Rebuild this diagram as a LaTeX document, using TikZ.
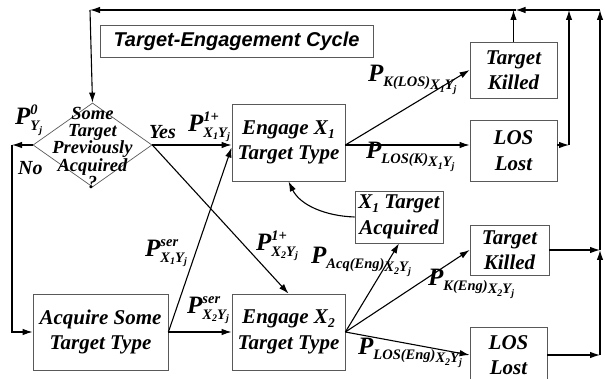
\documentclass[tikz,border=0pt]{standalone}
\usepackage{fontspec}
\setmainfont{Liberation Serif}
\newfontfamily\titlefont{Liberation Sans}
\usetikzlibrary{shapes.geometric,arrows.meta,calc}
\newcommand{\boxfont}{\fontsize{21}{25.5}\selectfont\bfseries\itshape}
\newcommand{\diafont}{\fontsize{18.5}{16.5}\selectfont\bfseries\itshape}
\newcommand{\bigP}{{\fontsize{25}{25}\selectfont P}}
\newcommand{\sbf}[1]{{\fontsize{14.5}{14.5}\selectfont #1}}
\newcommand{\ssb}[1]{\raisebox{-2.5pt}{\fontsize{10}{10}\selectfont #1}}
\newcommand{\bsub}[1]{\raisebox{-4pt}{\fontsize{13.5}{13.5}\selectfont #1}}
\newcommand{\XYj}[1]{X\ssb{#1}Y\ssb{j}}
\newcommand{\PSup}[2]{\bigP\rlap{\raisebox{10pt}{\sbf{#1}}}\raisebox{-6pt}{\sbf{#2}}}
\newcommand{\PDbl}[2]{\bigP\raisebox{-5pt}{\sbf{#1}}\raisebox{-8pt}{\sbf{\XYj{#2}}}}
\begin{document}
\begin{tikzpicture}[x=1pt,y=-1pt,
 box/.style={draw=gray!70!black, line width=0.8pt, align=center, inner sep=0pt, font=\boxfont},
 arr/.style={-{Latex[length=10pt,width=6.5pt]}, line width=1.1pt},
 lab/.style={inner sep=0pt, anchor=west, font=\bfseries\itshape},
 word/.style={inner sep=0pt, anchor=west, font=\fontsize{20}{20}\selectfont\bfseries\itshape}]
\useasboundingbox (0,0) rectangle (605,379);

% title
\node[draw=gray!70!black, line width=0.8pt, minimum width=273pt, minimum height=32pt, inner sep=0pt,
      font=\titlefont\fontsize{20}{20}\selectfont\bfseries\itshape] (title) at (236.5,41) {Target-Engagement Cycle};

% decision
\node[diamond, draw=gray!70!black, line width=0.7pt, minimum width=119pt, minimum height=84pt, inner sep=0pt] (dia) at (92.5,145) {};
\node[align=center, inner sep=0pt, font=\diafont] (diatext) at (92.5,148) {Some\\Target\\Previously\\Acquired\\?};

% boxes
\node[box, minimum width=113pt, minimum height=77pt] (E1) at (288.5,142.5) {Engage X\bsub{1}\\Target Type};
\node[box, minimum width=113pt, minimum height=76pt] (E2) at (288.5,332) {Engage X\bsub{2}\\Target Type};
\node[box, minimum width=135pt, minimum height=76pt] (Acq) at (100.5,332) {Acquire Some\\Target Type};
\node[box, minimum width=87pt, minimum height=56pt] (TK1) at (513.5,70) {Target\\Killed};
\node[box, minimum width=87pt, minimum height=61pt] (LL1) at (513.5,150.5) {LOS\\Lost};
\node[box, minimum width=88pt, minimum height=52pt] (XA) at (399,217) {X\bsub{1} Target\\Acquired};
\node[box, minimum width=79pt, minimum height=50pt] (TK2) at (509.5,250) {Target\\Killed};
\node[box, minimum width=77pt, minimum height=56pt] (LL2) at (508.5,355) {LOS\\Lost};

% coordinates
\coordinate (top) at (0,10);
\coordinate (tl) at (90,10);
\coordinate (tr) at (600,10);
\coordinate (nocorner) at (12,145);
\coordinate (e1o) at (E1.east |- dia.east);
\coordinate (r1) at (569,145);
\coordinate (r2a) at (600,250);
\coordinate (r2b) at (600,355);
\coordinate (tkt) at (TK1.north |- top);

% connectors
\draw[arr] (dia.east) -- (E1.west |- dia.east);
\draw[arr] (dia.west) -- (nocorner);
\draw[arr] (nocorner) |- (Acq.west);
\draw[arr] (dia.east) -- (E2.north);
\draw[arr] (Acq.east) -- ($(E1.west)+(0,5)$);
\draw[arr] (Acq.east) -- (E2.west);
\draw[arr] (e1o) -- (TK1.west);
\draw[arr] (e1o) -- (LL1.west |- e1o);
\draw[arr] (E2.east) -- (XA.south);
\draw[arr] (E2.east) -- (TK2.west);
\draw[arr] (E2.east) -- (LL2.west);
\draw[arr] (XA.west) .. controls (325,216) and (300,205) .. (E1.south);
\draw[arr] (TK1.north) -- (tkt);
\draw[arr] (LL1.east |- e1o) -- (r1);
\draw[arr] (r1) -- (r1 |- top);
\draw[arr] (TK2.east) -- (r2a);
\draw[arr] (LL2.east) -- (r2b);
\draw[arr] (r2b) -- (r2a);
\draw[arr] (r2a) -- (tr);
\draw[arr] (tr) -- ($(tkt)+(2,0)$);
\draw[arr] ($(tkt)+(2,0)$) -- (tl);
\draw[arr] (tl) -- (dia.north);

% labels
\node[lab] (p0) at (15,120) {\PSup{0}{Y\ssb{j}}};
\node[word] (no) at (18,168) {No};
\node[word] (yes) at (149,132) {Yes};
\node[lab] (p1) at (188,127) {\PSup{1+}{\XYj{1}}};
\node[lab] (p2) at (256,246) {\PSup{1+}{\XYj{2}}};
\node[lab] (p3) at (145,253) {\PSup{ser}{\XYj{1}}};
\node[lab] (p4) at (187,310) {\PSup{ser}{\XYj{2}}};
\node[lab] (p5) at (368,80) {\PDbl{K(LOS)}{1}};
\node[lab] (p6) at (366,157) {\PDbl{LOS(K)}{1}};
\node[lab] (p7) at (311,262) {\PDbl{Acq(Eng)}{2}};
\node[lab] (p8) at (428,284) {\PDbl{K(Eng)}{2}};
\node[lab] (p9) at (358,353) {\PDbl{LOS(Eng)}{2}};
\end{tikzpicture}
\end{document}
